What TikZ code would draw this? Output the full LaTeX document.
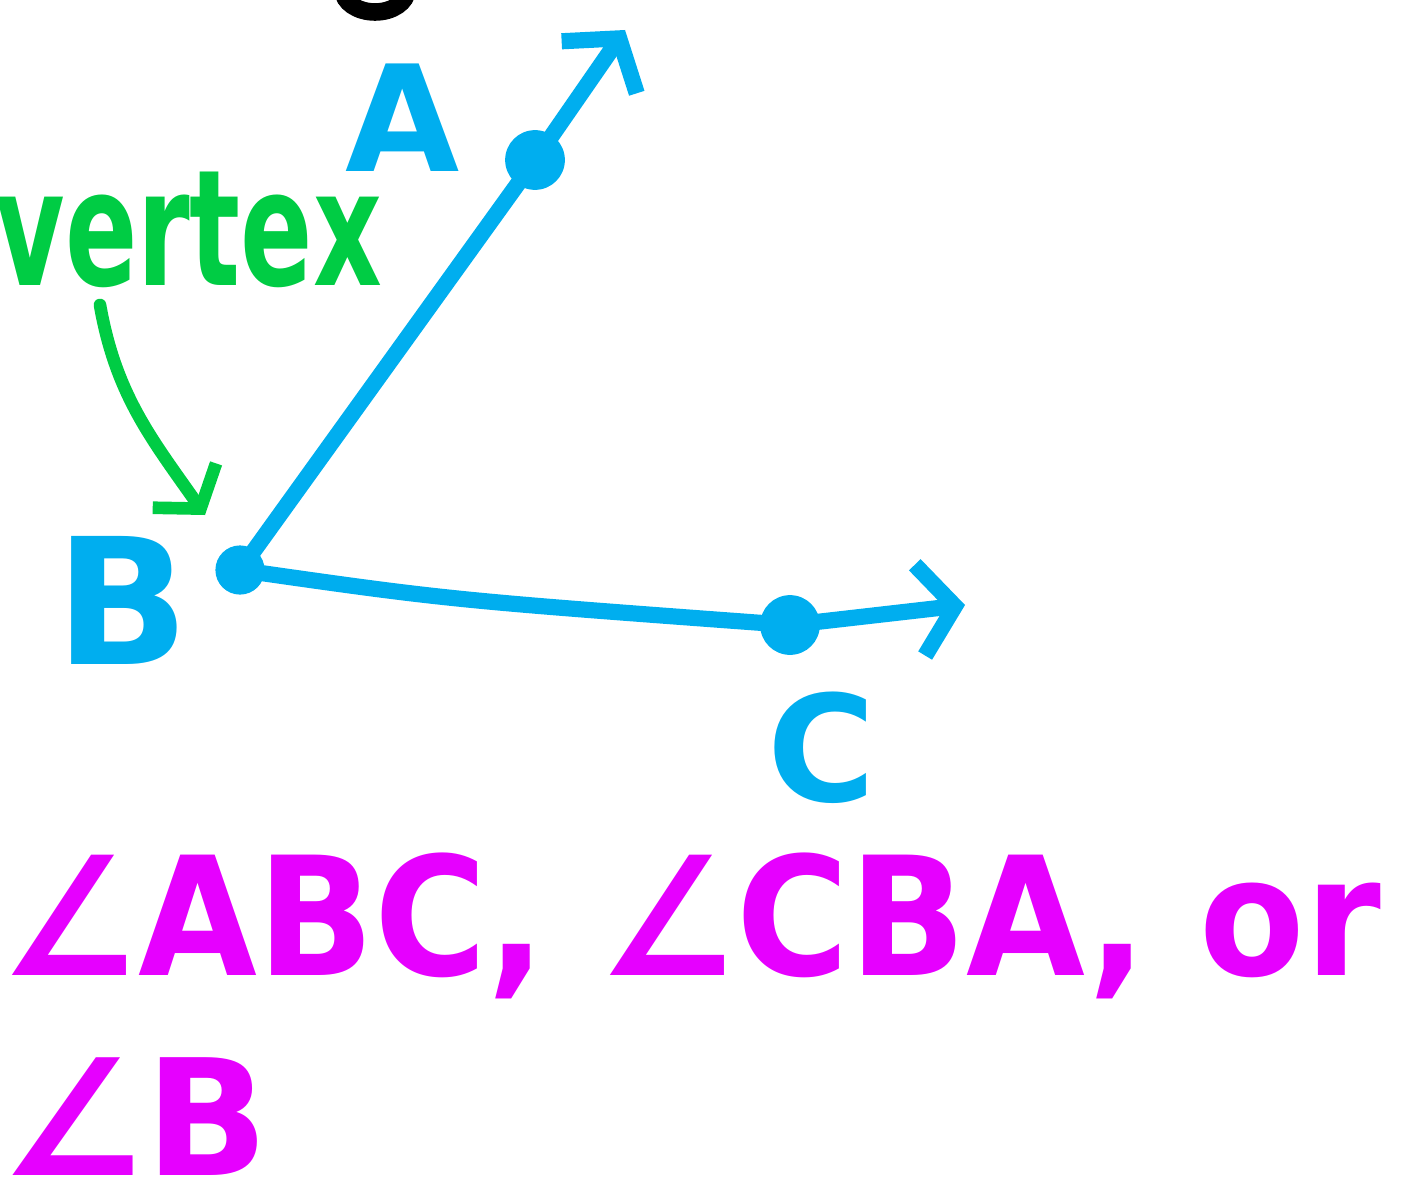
\documentclass[tikz,border=0pt]{standalone}
\usepackage{fontspec}
\setmainfont{DejaVu Sans}
\usepackage{tikz}
\usetikzlibrary{arrows.meta,positioning}
\definecolor{raycol}{HTML}{00AEEF}
\definecolor{vtxcol}{HTML}{00CC44}
\definecolor{namecol}{HTML}{E600FF}
\tikzset{ray/.style={draw=raycol,line width=4.6pt,line cap=round,
    -{Straight Barb[length=10pt,width=26pt,line width=4.6pt]}}}
\tikzset{dot/.style={circle,fill=raycol,inner sep=0pt,minimum size=17pt}}
\tikzset{pointlabel/.style={text=raycol,inner sep=0pt}}

\begin{document}
\begin{tikzpicture}
\useasboundingbox (0,0) rectangle (14.01,12);
% cut-off mark at the top
\draw[black,line width=5pt] (3.75,12.1) ellipse [x radius=0.32,y radius=0.22];
% points of the angle
\coordinate (b) at (2.40,6.30);
\node (pa) [dot] at (5.35,10.40) {};
\node (pc) [dot] at (7.90,5.75) {};
\coordinate (ta) at (6.25,11.70);
\coordinate (tc) at (9.65,5.95);
%
\node (A) [pointlabel,font=\bfseries\fontsize{42}{50}\selectfont] at (4.03,10.82) {A};
\node (B) [pointlabel,font=\bfseries\fontsize{50}{60}\selectfont] at (1.22,6.00) {B};
\node (C) [pointlabel,font=\bfseries\fontsize{42}{50}\selectfont] at (8.22,4.52) {C};
\fill[raycol] (b) circle (7pt);
%
\draw[ray] (b) -- (pa.center) -- (ta);
\draw[ray] (b) .. controls (4.5,6.0) .. (pc.center) -- (tc);
% the vertex label
\node (vtx) [text=vtxcol,inner sep=0pt,anchor=base west,xscale=0.66,
  font=\bfseries\fontsize{46}{50}\selectfont] at (-0.05,9.15) {vertex};
\coordinate (vs) at (1.0,8.95);
\coordinate (ve) at (2.05,6.85);
\draw[vtxcol,line width=3.6pt,line cap=round,
  -{Straight Barb[length=8pt,width=22pt,line width=3.6pt]}]
  (vs) to[out=-80,in=125] (ve);
% names of the angle
\node (n1) [text=namecol,inner sep=0pt,anchor=base west,xscale=0.93,
  font=\bfseries\fontsize{47}{56}\selectfont] at (0,2.25) {∠ABC, ∠CBA, or};
\node (n2) [text=namecol,inner sep=0pt,anchor=base west,text depth=0pt,
  font=\bfseries\fontsize{46}{56}\selectfont] at (0,0.25) {∠B};
\end{tikzpicture}
\end{document}
